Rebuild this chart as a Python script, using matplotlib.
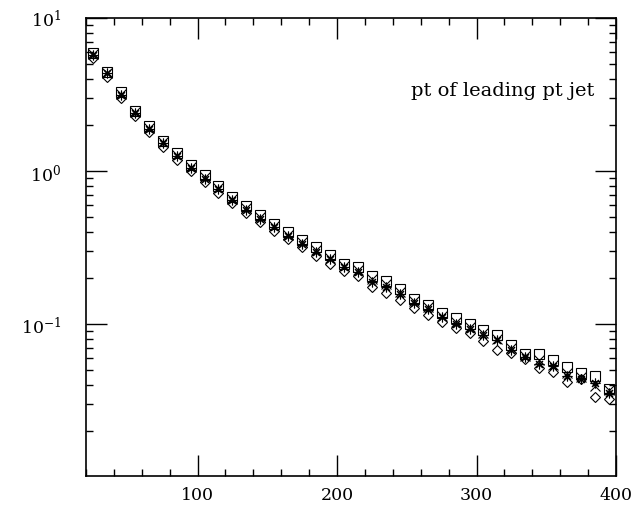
import matplotlib
matplotlib.use("Agg")
import matplotlib.pyplot as plt
from matplotlib.ticker import FixedLocator, LogLocator, NullFormatter, MultipleLocator

plt.rcParams['font.family'] = 'DejaVu Serif'
plt.rcParams['mathtext.fontset'] = 'dejavuserif'

# pt bin centres
pt = [25, 35, 45, 55, 65, 75, 85, 95, 105, 115, 125, 135, 145, 155, 165, 175, 185, 195, 205,
      215, 225, 235, 245, 255, 265, 275, 285, 295, 305, 315, 325, 335, 345, 355, 365, 375, 385, 395]

# squares
sq = [5.9, 4.46, 3.27, 2.48, 1.96, 1.58, 1.31, 1.10, 0.94, 0.80, 0.68, 0.59, 0.518, 0.453, 0.40,
      0.356, 0.318, 0.284, 0.248, 0.236, 0.207, 0.192, 0.169, 0.146, 0.134, 0.118, 0.109, 0.100,
      0.092, 0.085, 0.073, 0.064, 0.064, 0.058, 0.0525, 0.048, 0.0457, 0.038]
# crosses
cr = [5.8, 4.4, 3.2, 2.43, 1.92, 1.54, 1.27, 1.07, 0.91, 0.78, 0.66, 0.57, 0.50, 0.44, 0.385,
      0.343, 0.303, 0.272, 0.240, 0.225, 0.198, 0.183, 0.162, 0.141, 0.129, 0.113, 0.104, 0.096,
      0.087, 0.080, 0.070, 0.062, 0.058, 0.054, 0.048, 0.045, 0.0395, 0.037]
# asterisks
ast = [5.7, 4.35, 3.15, 2.4, 1.89, 1.52, 1.25, 1.05, 0.89, 0.76, 0.645, 0.555, 0.49, 0.43, 0.375,
       0.335, 0.297, 0.265, 0.238, 0.218, 0.19, 0.175, 0.157, 0.137, 0.125, 0.111, 0.101, 0.093,
       0.085, 0.079, 0.068, 0.061, 0.055, 0.053, 0.046, 0.044, 0.041, 0.0358]
# diamonds
dm = [5.45, 4.13, 2.99, 2.28, 1.79, 1.43, 1.18, 1.0, 0.85, 0.72, 0.62, 0.53, 0.466, 0.407, 0.36,
      0.317, 0.277, 0.247, 0.223, 0.205, 0.175, 0.159, 0.143, 0.127, 0.115, 0.1035, 0.095, 0.087,
      0.078, 0.068, 0.065, 0.059, 0.0515, 0.049, 0.042, 0.044, 0.0336, 0.0324]

fig = plt.figure(figsize=(6.31, 5.06), dpi=100)
ax = fig.add_axes([0.1363, 0.0573, 0.8399, 0.9052])

kw = dict(linestyle='none', markerfacecolor='none', markeredgecolor='black', markeredgewidth=0.8)
ax.plot(pt, sq, marker='s', markersize=7.5, **kw)
ax.plot(pt, cr, marker='x', markersize=6.5, **kw)
ax.plot(pt, ast, marker=(8, 2, 0), markersize=7, **kw)
ax.plot(pt, dm, marker='D', markersize=5.5, **kw)

ax.set_yscale('log')
ax.set_xlim(20, 400)
ax.set_ylim(0.0102, 10)

ax.xaxis.set_major_locator(FixedLocator([100, 200, 300, 400]))
ax.xaxis.set_minor_locator(MultipleLocator(20))
ax.yaxis.set_major_locator(FixedLocator([0.1, 1, 10]))
ax.yaxis.set_minor_locator(LogLocator(base=10, subs=range(2, 10)))
ax.yaxis.set_minor_formatter(NullFormatter())
ax.set_yticklabels([r'$10^{-1}$', r'$10^{0}$', r'$10^{1}$'])

ax.tick_params(which='both', direction='in', top=True, right=True, width=1, labelsize=12.5)
ax.tick_params(which='major', length=15)
ax.tick_params(which='minor', length=5)
ax.tick_params(axis='y', pad=18)
ax.tick_params(axis='x', pad=7)
for s in ax.spines.values():
    s.set_linewidth(1.2)

ax.text(0.96, 0.843, 'pt of leading pt jet', transform=ax.transAxes,
        ha='right', va='center', fontsize=14)

plt.savefig('out.png', dpi=100)
